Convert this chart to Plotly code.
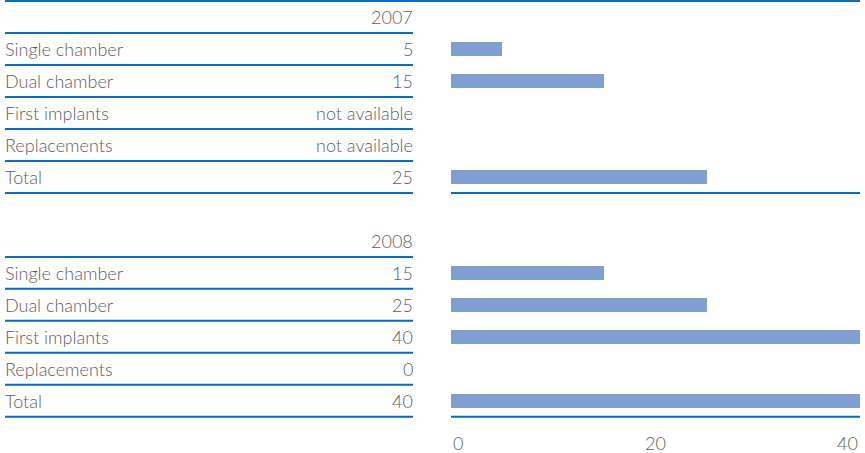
import plotly.graph_objects as go

years = ["2007", "2008"]
row_labels = ["Single chamber", "Dual chamber", "First implants", "Replacements", "Total"]
values_2007 = [5, 15, None, None, 25]
text_2007 = ["5", "15", "not available", "not available", "25"]
values_2008 = [15, 25, 40, 0, 40]
text_2008 = ["15", "25", "40", "0", "40"]
x_ticks = [0, 20, 40]

W, H = 865, 453
BAR_COLOR = "#7F9ED3"
LINE_COLOR = "#0A6CC2"
TEXT_COLOR = "#5E5E5E"
FONT = "Lato"

left_x0 = 5 / W
left_x1 = 413 / W

groups = [
    (years[0], values_2007, text_2007),
    (years[1], values_2008, text_2008),
]

fig = go.Figure()
annotations = []
shapes = []

bar_y, bar_x = [], []
start = 0
last_row = 0
for year, vals, texts in groups:
    header = start
    annotations.append(dict(x=left_x1, y=header, xref="paper", yref="y", text=year,
                            showarrow=False, xanchor="right", yanchor="middle", xshift=2))
    for i, (lab, v, t) in enumerate(zip(row_labels, vals, texts)):
        r = header + 1 + i
        annotations.append(dict(x=left_x0, y=r, xref="paper", yref="y", text=lab,
                                showarrow=False, xanchor="left", yanchor="middle", xshift=-2))
        annotations.append(dict(x=left_x1, y=r, xref="paper", yref="y", text=t,
                                showarrow=False, xanchor="right", yanchor="middle", xshift=2))
        bar_y.append(r)
        bar_x.append(v)
        last_row = r
    for k in range(len(row_labels) + 1):
        yb = header + 0.5 + k
        shapes.append(dict(type="line", xref="paper", yref="y", x0=left_x0, x1=left_x1,
                           y0=yb, y1=yb, line=dict(color=LINE_COLOR, width=2)))
    yb = header + len(row_labels) + 0.5
    shapes.append(dict(type="line", xref="x domain", yref="y", x0=0, x1=1,
                       y0=yb, y1=yb, line=dict(color=LINE_COLOR, width=2)))
    start = header + len(row_labels) + 2

shapes.append(dict(type="line", xref="paper", yref="paper", x0=left_x0, x1=860 / W,
                   y0=1, y1=1, line=dict(color=LINE_COLOR, width=2)))

fig.add_trace(go.Bar(
    x=bar_x, y=bar_y, orientation="h", width=0.44,
    marker=dict(color=BAR_COLOR, line=dict(width=0)),
    hoverinfo="skip", showlegend=False,
))

for j, t in enumerate(x_ticks):
    anchor = "left" if j == 0 else ("right" if j == len(x_ticks) - 1 else "center")
    annotations.append(dict(x=t, y=0, xref="x", yref="paper", text=str(t), showarrow=False,
                            xanchor=anchor, yanchor="middle", yshift=-23))

fig.update_layout(
    width=W, height=H,
    margin=dict(l=0, r=0, t=1, b=33),
    paper_bgcolor="white", plot_bgcolor="white",
    font=dict(family=FONT, size=18, color=TEXT_COLOR, weight=300),
    xaxis=dict(domain=[451 / W, 860 / W], range=[0, 40], showgrid=False, zeroline=False,
               showticklabels=False, ticks="", showline=False, fixedrange=True),
    yaxis=dict(range=[last_row + 0.6, -0.5], showgrid=False, zeroline=False,
               showticklabels=False, ticks="", showline=False, fixedrange=True),
    annotations=annotations,
    shapes=shapes,
    bargap=0,
)

fig.write_html("out.html", config={"displayModeBar": False},
               post_script="document.body.style.margin='0';")
